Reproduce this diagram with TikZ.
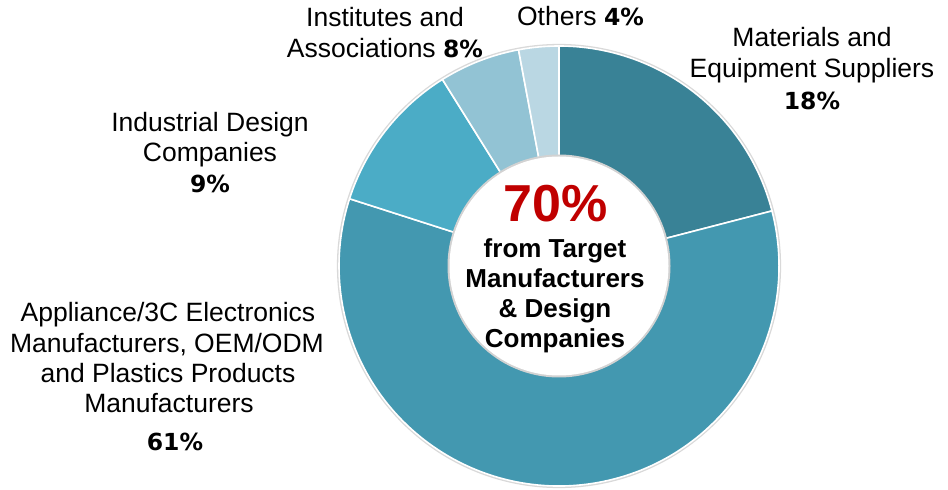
\documentclass[tikz,border=0pt]{standalone}
\usepackage{fontspec}
\setmainfont{Liberation Sans}
\newfontfamily\pctfont{DejaVu Sans}
\definecolor{cMat}{RGB}{57,130,150}
\definecolor{cApp}{RGB}{67,152,176}
\definecolor{cInd}{RGB}{75,172,198}
\definecolor{cIns}{RGB}{146,195,212}
\definecolor{cOth}{RGB}{186,215,227}
\definecolor{cRed}{RGB}{192,0,0}
\tikzset{
  lbl/.style={anchor=base, inner sep=0pt, font=\fontsize{26.5}{30}\selectfont},
  pct/.style={anchor=base, inner sep=0pt, font=\fontsize{23.5}{28}\selectfont\pctfont\bfseries},
  ctr/.style={anchor=base, inner sep=0pt, font=\fontsize{26}{30}\selectfont\bfseries},
  big/.style={anchor=base, inner sep=0pt, font=\fontsize{52}{60}\selectfont\bfseries, text=cRed},
  seg/.style={draw=white, line width=1.6pt, line join=round}
}
\newcommand{\donutseg}[3]{%
  \filldraw[seg, fill=#3] (#1:220) arc[start angle=#1, end angle=#2, radius=220]
    -- (#2:110) arc[start angle=#2, end angle=#1, radius=110] -- cycle;}
\begin{document}
\begin{tikzpicture}[x=1pt,y=1pt]
\useasboundingbox (0,0) rectangle (948,490);
\begin{scope}[shift={(559,224)}]
  \draw[gray!30, line width=2.2pt] (0,0) circle[radius=221];
  \donutseg{90}{14.5}{cMat}
  \donutseg{14.5}{-197.8}{cApp}
  \donutseg{162.2}{122}{cInd}
  \donutseg{122}{100.6}{cIns}
  \donutseg{100.6}{90}{cOth}
  \fill[gray!35] (0,0) circle[radius=111.5];
  \fill[white] (0,0) circle[radius=109.5];
\end{scope}
% Institutes
\node[lbl] (ins1) at (385,463) {Institutes and};
\node[lbl] (ins2) at (385,432) {Associations {\pctfont\bfseries\fontsize{23.5}{28}\selectfont 8\%}};
% Others
\node[lbl] (oth) at (580.5,464) {Others {\pctfont\bfseries\fontsize{23.5}{28}\selectfont 4\%}};
% Materials
\node[lbl] (mat1) at (812,443) {Materials and};
\node[lbl] (mat2) at (812,412) {Equipment Suppliers};
\node[pct] (mat3) at (812,380) {18\%};
% Industrial
\node[lbl] (ind1) at (210,358) {Industrial Design};
\node[lbl] (ind2) at (210,328) {Companies};
\node[pct] (ind3) at (210,297) {9\%};
% Appliance
\node[lbl] (app1) at (168,168) {Appliance/3C Electronics};
\node[lbl] (app2) at (167,137) {Manufacturers, OEM/ODM};
\node[lbl] (app3) at (168,107) {and Plastics Products};
\node[lbl] (app4) at (169,77) {Manufacturers};
\node[pct] (app5) at (175,39) {61\%};
% Center
\node[big] (c0) at (556,268) {70\%};
\node[ctr] (c1) at (555,232) {from Target};
\node[ctr] (c2) at (555,202) {Manufacturers};
\node[ctr] (c3) at (555,172) {\& Design};
\node[ctr] (c4) at (555,142) {Companies};
\end{tikzpicture}
\end{document}
